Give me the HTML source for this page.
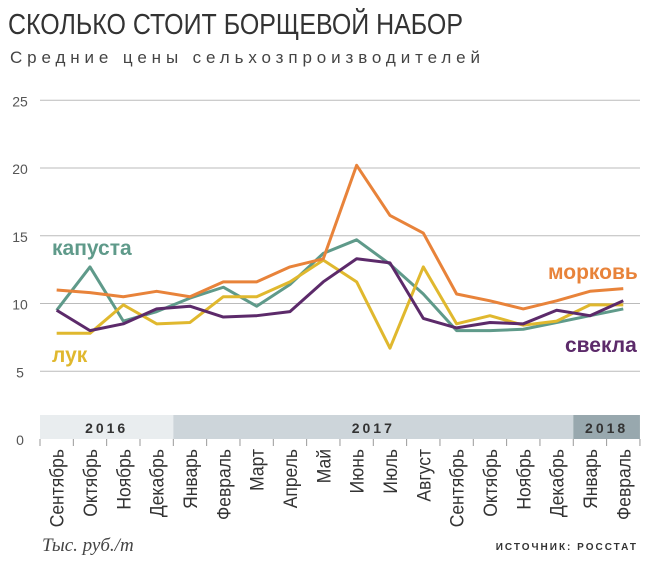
<!DOCTYPE html>
<html><head><meta charset="utf-8"><style>
body{margin:0;background:#fff;width:650px;height:563px;overflow:hidden;font-family:"Liberation Sans",sans-serif}
</style></head><body>
<svg width="650" height="563" xmlns="http://www.w3.org/2000/svg">
<text x="8" y="34" font-size="29" fill="#333" textLength="455" lengthAdjust="spacingAndGlyphs">СКОЛЬКО СТОИТ БОРЩЕВОЙ НАБОР</text>
<text x="10" y="63" font-size="17" fill="#444" textLength="470" lengthAdjust="spacing">Средние цены сельхозпроизводителей</text>
<g id="grid"></g>
<g id="band"></g>
<g id="lines"></g>
<g id="xlabels"></g>
<text x="42" y="551" font-family="Liberation Serif" font-style="italic" font-size="19" fill="#444">Тыс. руб./т</text>
<text x="638" y="550" font-size="10" font-weight="bold" fill="#333" text-anchor="end" letter-spacing="2">ИСТОЧНИК: РОССТАТ</text>
<text x="52" y="255" font-size="21" font-weight="bold" fill="#5f9a8a">капуста</text>
<text x="548" y="279" font-size="21" font-weight="bold" fill="#e8833a">морковь</text>
<text x="52" y="362" font-size="21" font-weight="bold" fill="#e0b82e">лук</text>
<text x="565" y="352" font-size="21" font-weight="bold" fill="#5c2a6a">свекла</text>
</svg>
<script>
const months=["Сентябрь","Октябрь","Ноябрь","Декабрь","Январь","Февраль","Март","Апрель","Май","Июнь","Июль","Август","Сентябрь","Октябрь","Ноябрь","Декабрь","Январь","Февраль"];
const yTicks=[0,5,10,15,20,25];
const carrot=[11.0,10.8,10.5,10.9,10.5,11.6,11.6,12.7,13.3,20.2,16.5,15.2,10.7,10.2,9.6,10.2,10.9,11.1];
const cabbage=[9.5,12.7,8.7,9.4,10.4,11.2,9.8,11.4,13.7,14.7,12.9,10.7,8.0,8.0,8.1,8.6,9.1,9.6];
const onion=[7.8,7.8,9.9,8.5,8.6,10.5,10.5,11.6,13.2,11.6,6.7,12.7,8.5,9.1,8.4,8.7,9.9,9.9];
const beet=[9.5,8.0,8.5,9.6,9.8,9.0,9.1,9.4,11.6,13.3,13.0,8.9,8.2,8.6,8.5,9.5,9.1,10.2];
const years=["2016","2017","2018"];
const yearStart=[0,4,16];
const yearEnd=[4,16,18];
const NS="http://www.w3.org/2000/svg";
const x0=40,step=33.33;
const X=i=>x0+step*(i+0.5);
const Y=v=>439-13.55*v;
function mk(t,a,p){const e=document.createElementNS(NS,t);for(const k in a)e.setAttribute(k,a[k]);p.appendChild(e);return e;}
const grid=document.getElementById('grid');
yTicks.forEach(v=>{
  if(v>0){const l=mk('line',{x1:40,x2:640,y1:Y(v),y2:Y(v),stroke:'#bbb','stroke-width':1},grid);
  
  }
  const t=mk('text',{x:20,y:Y(v)+6,'font-size':14,fill:'#555','text-anchor':'middle'},grid);
  t.textContent=v;
  
  
});
const band=document.getElementById('band');
const bandFill=["#e9edef","#cdd5da","#98a8ae"];
years.forEach((y,i)=>{
  const r=mk('rect',{x:x0+step*yearStart[i],y:415,width:step*(yearEnd[i]-yearStart[i]),height:24,fill:bandFill[i]},band);
  
  
  const t=mk('text',{x:x0+step*(yearStart[i]+yearEnd[i])/2,y:433,'font-size':14,'font-weight':'bold',fill:'#333','text-anchor':'middle','letter-spacing':3},band);
  t.textContent=y;
  
  
});
for(let i=0;i<=months.length;i++){
  const l=mk('line',{x1:x0+step*i,x2:x0+step*i,y1:439,y2:446,stroke:'#999','stroke-width':1},band);
  
  
}
const xl=document.getElementById('xlabels');
months.forEach((m,i)=>{
  const t=mk('text',{transform:`translate(${X(i)+7},449) rotate(-90) scale(0.92,1)`,'font-size':19,fill:'#333','text-anchor':'end'},xl);
  t.textContent=m;
  
  
});
const lines=document.getElementById('lines');
[["cabbage",cabbage,"#5f9a8a"],["onion",onion,"#e0b82e"],["carrot",carrot,"#e8833a"],["beet",beet,"#5c2a6a"]].forEach(([n,d,c])=>{
  const p=mk('polyline',{points:d.map((v,i)=>X(i)+','+Y(v)).join(' '),fill:'none',stroke:c,'stroke-width':3,'stroke-linejoin':'round'},lines);
  
  
});
</script>
</body></html>
